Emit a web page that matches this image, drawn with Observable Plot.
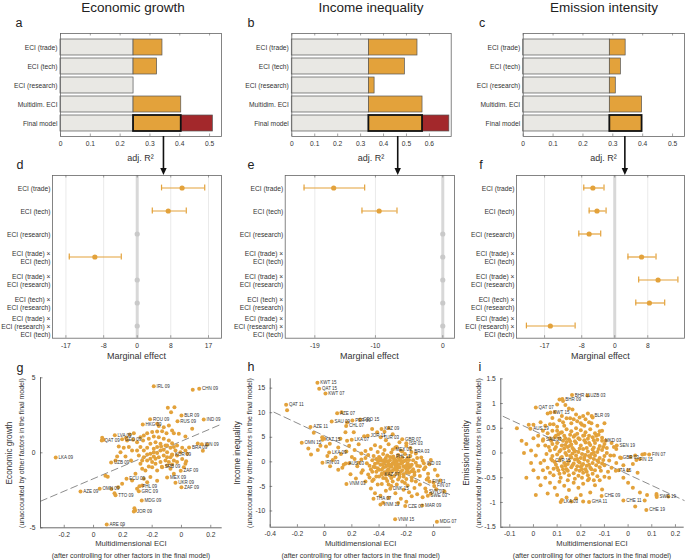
<!DOCTYPE html>
<html><head><meta charset="utf-8">
<script src="https://cdn.jsdelivr.net/npm/d3@7"></script>
<script src="https://cdn.jsdelivr.net/npm/@observablehq/plot@0.6"></script>
<style>
body{margin:0;background:#fff;font-family:"Liberation Sans",Arial,Helvetica,sans-serif;}
#fig{position:relative;width:685px;height:560px;overflow:hidden;background:#fff;}
.t{position:absolute;white-space:nowrap;color:#222;line-height:1;}
</style></head><body><div id="fig"></div>
<script>
const FONT = '"Liberation Sans", Arial, Helvetica, sans-serif';
const ORANGE = "#e3a23b", RED = "#a3282b", BARGRAY = "#e9e8e4", DOTGRAY = "#c9c9c9", INK = "#444";

// ---------- panels a-c: adjusted R^2 ----------
const topRows = ["ECI (trade)", "ECI (tech)", "ECI (research)", "Multidim. ECI", "Final model"];
const baseR2 = [0.245, 0.336, 0.29];
const eciR2A = [0.342, 0.324, 0.245, 0.405, 0.405];
const eciR2B = [0.548, 0.493, 0.361, 0.570, 0.570];
const eciR2C = [0.343, 0.327, 0.31, 0.398, 0.398];
const finalR2 = [0.511, 0.687, null];
const r2Max = [0.54, 0.695, 0.54];
const r2TicksA = [0, 0.1, 0.2, 0.3, 0.4, 0.5];
const r2TicksB = [0, 0.1, 0.2, 0.3, 0.4, 0.5, 0.6];
const r2TicksC = [0, 0.1, 0.2, 0.3, 0.4, 0.5];
const arrowAt = [0.347, 0.464, 0.342];

// ---------- panels d-f: marginal effects ----------
const midRows = ["ECI (trade)", "ECI (tech)", "ECI (research)", "ECI (trade) ×\nECI (tech)",
  "ECI (trade) ×\nECI (research)", "ECI (tech) ×\nECI (research)", "ECI (trade) ×\nECI (research) ×\nECI (tech)"];
const effD = [10.7, 7.4, 0, -10.1, 0, 0, 0];
const loD = [5.8, 3.6, null, -16.2, null, null, null];
const hiD = [16.1, 11.7, null, -3.8, null, null, null];
const effE = [-16.2, -9.45, 0, 0, 0, 0, 0];
const loE = [-20.6, -12.0, null, null, null, null, null];
const hiE = [-11.6, -6.8, null, null, null, null, null];
const effF = [-5.3, -4.3, -6.2, 6.5, 10.5, 8.4, -15.6];
const loF = [-7.5, -6.2, -8.7, 3.2, 5.8, 5.1, -21.4];
const hiF = [-2.6, -2.1, -3.4, 10.0, 15.3, 12.1, -9.6];
const ticksD = [-17, -8, 0, 8, 17], ticksE = [-19, -10, 0], ticksF = [-17, -8, 0, 8];
const domD = [-20.2, 20.1], domE = [-23.4, 1.74], domF = [-23.8, 16.9];

// ---------- panel g: economic growth scatter ----------
const gTicksX = [-0.8, -0.6, -0.4, -0.2, 0, 0.2];
const gTickLabels = ["-0.2", "0", "0.2", "-0.2", "0", "0.2"];
const gTicksY = [-5, 0, 5];
const gFit = [[-0.962, -3.23], [0.278, 1.93]];
const gLabeled = [["IRL 09",-0.189,4.44],["CHN 09",0.121,4.27],["BLR 09",0,2.49],["RUS 09",-0.027,2.11],["IND 09",0.152,2.22],
 ["ROU 09",-0.214,2.24],["HKG 09",-0.264,1.89],["LVA 09",-0.455,1.17],["GEO 09",-0.405,0.91],["QAT 09",-0.544,0.82],
 ["IDN 09",0.139,0.57],["BRA 09",0.052,0.35],["LKA 09",-0.858,-0.31],["UZB 09",-0.48,-0.65],["KOR 09",-0.064,-0.14],
 ["SRB 09",-0.134,-0.93],["ZAF 09",-0.005,-1.2],["ECU 09",-0.375,-1.73],["PHL 09",-0.287,-2.23],["MEX 09",-0.098,-1.65],
 ["UKR 09",-0.041,-2.0],["ZAF 09",0,-2.29],["OMN 09",-0.558,-2.4],["AZE 09",-0.689,-2.58],["GRC 09",-0.291,-2.56],
 ["TTO 09",-0.45,-2.83],["MDG 09",-0.271,-3.18],["JOR 09",-0.325,-3.91],["ARE 09",-0.51,-4.78]];
const gPoints = [[-0.093,3.0],[-0.048,3.04],[-0.071,2.71],[0.077,4.2],[-0.166,1.93],[-0.155,1.78],[-0.121,1.71],[-0.086,1.82],
 [-0.064,1.49],[-0.2,1.38],[-0.166,1.42],[-0.132,1.44],[-0.102,1.31],[-0.052,1.31],[-0.018,1.27],[0.027,1.09],[0.073,1.6],
 [-0.234,1.31],[-0.257,1.16],[-0.28,1.04],[-0.325,1.31],[-0.353,1.22],[-0.378,1.0],[-0.33,0.87],[-0.303,0.71],[-0.262,0.82],
 [-0.223,0.93],[-0.189,1.09],[-0.155,1.04],[-0.121,0.93],[-0.086,0.82],[-0.064,0.64],[-0.03,0.49],[0.005,0.33],[0.027,0.16],
 [0.039,-0.07],[-0.007,0.04],[-0.041,0.16],[-0.075,0.33],[-0.109,0.49],[-0.143,0.6],[-0.177,0.71],[-0.212,0.6],[-0.234,0.33],
 [-0.257,0.16],[-0.28,0.38],[-0.303,0.16],[-0.291,-0.18],[-0.257,-0.29],[-0.234,-0.51],[-0.212,-0.4],[-0.189,-0.24],[-0.166,-0.02],
 [-0.143,0.16],[-0.121,-0.18],[-0.098,0.04],[-0.075,-0.29],[-0.052,-0.51],[-0.086,-0.62],[-0.109,-0.51],[-0.143,-0.62],
 [-0.177,-0.73],[-0.2,-0.96],[-0.223,-0.91],[-0.246,-1.18],[-0.268,-1.07],[-0.166,-1.18],[-0.132,-0.96],[-0.098,-0.84],
 [-0.064,-0.78],[-0.03,-0.62],[0.016,-0.96],[0.032,-0.56],[0.005,-0.42],[-0.189,0.27],[-0.166,0.38],[-0.139,0.42],[-0.189,0.04],
 [-0.212,-0.07],[-0.234,-0.11],[-0.268,-0.51],[-0.28,-0.73],[-0.098,-0.29],[-0.064,-0.11],[-0.03,-0.18],[-0.052,0.38],
 [-0.098,0.49],[-0.2,-0.62],[-0.155,-0.29],[-0.121,0.2],[-0.177,-0.4],[-0.541,1.0],[-0.532,0.87],[-0.428,0.42],[-0.394,0.33],
 [-0.416,0.04],[-0.439,-0.24],[-0.45,-0.51],[-0.382,-0.24],[-0.359,0.38],[-0.337,0.16],[-0.344,-0.51],[-0.371,0.82],
 [-0.519,-1.53],[-0.503,-1.6],[-0.478,-2.42],[-0.457,-2.69],[-0.432,-2.29],[-0.405,-2.07],[-0.337,-1.84],[-0.314,-1.4],
 [-0.321,-3.69],[-0.316,-3.84],[-0.166,-1.87],[-0.303,-2.4],[-0.268,-2.18],[-0.234,-1.96],[-0.212,-1.62],[-0.257,-1.73],
 [-0.052,-1.4],[-0.075,-1.07],[0.027,-0.73],[0.111,0.62],[0.175,0.53],[0.146,0.13]];

// ---------- panel h: income inequality scatter ----------
const hTicksX = [-1.2, -1.0, -0.8, -0.6, -0.4, -0.2, 0];
const hTickLabels = ["-0.4", "-0.2", "0", "0.2", "-0.4", "-0.2", "0"];
const hTicksY = [-10, -5, 0, 5, 10, 15];
const hFit = [[-1.172, 10.1], [0.13, -6.8]];
const hLabeled = [["KWT 15",-0.853,16.1],["QAT 15",-0.84,14.9],["KWT 07",-0.794,13.9],["QAT 11",-1.083,11.6],["AZE 07",-0.708,9.9],
 ["SAU 09",-0.748,8.2],["PER 09",-0.596,8.4],["GEO 15",-0.539,8.6],["CHL 07",-0.642,7.3],["AZE 11",-0.904,7.1],["KAZ 09",-0.382,6.7],
 ["JOR 11",-0.483,5.3],["TUR 03",-0.388,5.0],["KAZ 15",-0.816,4.5],["LKA 07",-0.601,4.5],["GBR 07",-0.23,4.6],["OMN 15",-0.968,3.9],
 ["ISR 03",-0.2,3.8],["LKA 09",-0.767,1.9],["MEX 03",-0.299,2.5],["BRA 03",-0.162,2.0],["PHL 11",-0.296,1.1],["IRN 03",-0.816,-0.2],
 ["AUS 03",-0.645,-0.35],["IND 03",-0.071,-0.3],["KAZ 07",-0.38,-2.6],["VNM 03",-0.64,-4.5],["FIN 11",-0.03,-4.0],["FIN 07",0.005,-4.9],
 ["DNK 15",-0.318,-5.5],["SVN 03",-0.054,-6.1],["SWE 03",-0.042,-6.9],["THA 07",-0.441,-7.5],["VNM 11",-0.39,-8.7],["CZE 07",-0.208,-9.0],
 ["MAR 09",-0.083,-8.9],["VNM 15",-0.282,-11.7],["MDG 07",0.025,-12.2]];
const hPoints = [[-1.076,10.5],[-0.676,10.1],[-0.635,8.0],[-0.818,5.0],[-0.806,4.7],[-0.762,3.7],[-0.831,3.3],[-0.684,4.7],
 [-0.647,6.0],[-0.586,6.0],[-0.635,4.3],[-0.451,6.7],[-0.414,6.0],[-0.88,5.9],[-0.85,2.4],[-0.78,1.2],[-0.74,0.4],[-0.7,2.9],
 [-0.68,1.6],[-0.66,-0.6],[-0.62,3.3],[-0.6,1.0],[-0.58,2.4],[-0.56,-0.9],[-0.55,3.6],[-0.53,0.5],[-0.52,-1.7],[-0.51,5.2],
 [-0.5,2.2],[-0.49,-0.3],[-0.7,-1.6],[-0.76,-0.9],[-0.9,1.5],[-0.92,2.7],[-0.61,-2.5],[-0.57,-3.4],[-0.53,-2.2],[-0.5,-4.0],
 [-0.47,-3.2],[-0.46,-5.4],[-0.43,-6.4],[-0.41,-4.6],[-0.39,-6.9],[-0.37,-8.3],[-0.35,-5.9],[-0.33,-7.3],[-0.31,-4.9],
 [-0.28,-6.4],[-0.26,-8.4],[-0.24,-7.5],[-0.22,-5.7],[-0.2,-8.1],[-0.18,-6.2],[-0.16,-7.0],[-0.14,-5.3],[-0.12,-6.6],[-0.1,-4.6],
 [-0.08,-7.2],[-0.06,-5.4],[-0.04,-3.3],[-0.02,-6.5],[0.0,-4.2],[0.02,-5.6],[0.05,-3.8],[0.08,-6.0],[-0.14,-2.1],[-0.12,-0.8],
 [-0.1,-2.9],[-0.09,0.9],[-0.07,-1.5],[-0.05,-3.6],[-0.03,-0.5],[-0.13,1.7],[-0.16,-3.8],[-0.18,-1.2],[-0.2,0.4],[-0.17,2.8],
 [-0.2,3.3],[-0.23,2.1],[-0.25,4.0],[-0.27,3.0],[-0.3,5.6],[-0.33,6.9],[-0.35,4.4],[-0.36,6.1],[-0.48,1.4],[-0.47,-0.8],
 [-0.46,2.6],[-0.45,0.3],[-0.45,-2.0],[-0.44,1.2],[-0.43,-1.1],[-0.43,3.4],[-0.42,0.6],[-0.42,-3.0],[-0.41,2.0],[-0.41,-0.2],
 [-0.4,-1.6],[-0.4,1.0],[-0.39,3.0],[-0.39,-0.6],[-0.38,0.2],[-0.38,-2.4],[-0.37,1.6],[-0.37,-1.2],[-0.36,-0.1],[-0.36,2.4],
 [-0.35,-3.4],[-0.35,0.8],[-0.34,-1.8],[-0.34,1.3],[-0.33,-0.4],[-0.33,3.6],[-0.32,0.3],[-0.32,-2.8],[-0.31,1.9],[-0.31,-1.0],
 [-0.3,-0.3],[-0.3,-4.0],[-0.29,0.7],[-0.29,-1.5],[-0.28,2.9],[-0.28,-0.8],[-0.27,0.1],[-0.27,-2.3],[-0.26,1.4],[-0.26,-1.2],
 [-0.25,-3.1],[-0.25,0.5],[-0.24,-0.4],[-0.24,2.3],[-0.23,-1.7],[-0.23,0.9],[-0.22,-0.9],[-0.22,-2.6],[-0.21,0.2],[-0.21,1.6],
 [-0.2,-1.4],[-0.2,-3.5],[-0.19,0.8],[-0.19,-0.3],[-0.18,-2.2],[-0.17,1.2],[-0.16,-0.6],[-0.15,0.3],[-0.15,-1.5],[-0.14,-2.7],
 [-0.13,-0.2],[-0.12,0.8],[-0.11,-1.8],[-0.1,-0.9],[-0.08,0.2],[-0.06,-1.1],[-0.04,-2.4],[-0.02,0.4],[0.01,-1.6],[0.03,-2.8],
 [-0.38,-4.5],[-0.34,-3.9],[-0.27,-4.6],[-0.23,-4.0],[-0.19,-4.8],[-0.44,-3.6],[-0.4,-3.0],[-0.46,-1.5],[-0.5,0.8],[-0.48,-2.6],
 [-0.53,1.7],[-0.55,-0.2],[-0.58,0.6],[-0.62,-0.3],[-0.64,2.1],[-0.67,-1.2],[-0.72,0.9],[-0.79,3.1],[-0.33,-1.5],[-0.31,-2.0],
 [-0.29,-2.9],[-0.27,-1.7],[-0.35,-1.0],[-0.37,-0.5],[-0.39,0.7],[-0.41,-1.3],[-0.28,0.3],[-0.26,-0.6],[-0.3,0.9],[-0.32,-0.9],
 [-0.34,0.1],[-0.36,-2.1],[-0.29,-0.4],[-0.25,-1.1],[-0.22,0.1],[-0.24,-2.0],[-0.31,-3.3],[-0.43,-0.4],[-0.45,-3.9],[-0.2,-0.8],
 [-0.18,0.4],[-0.16,-1.9],[-0.35,-2.6],[-0.33,-2.2],[-0.31,-0.6],[-0.29,0.2],[-0.27,-0.3],[-0.25,-2.5],[-0.23,-0.2],[-0.21,-1.1],
 [-0.19,-1.8],[-0.17,-0.9],[-0.36,0.4],[-0.34,-0.7],[-0.32,1.0],[-0.3,-1.8],[-0.28,-1.3],[-0.26,0.9],[-0.24,0.2],[-0.22,-3.0],
 [-0.2,-2.1],[-0.18,-0.7],[-0.42,-2.0],[-0.38,-1.6],[-0.4,0.3],[-0.44,-1.0],[-0.37,-3.3],[-0.33,-4.6],[-0.26,-3.6],[-0.21,-4.3],
 [-0.16,-3.2],[-0.13,-4.0]];

// ---------- panel i: emission intensity scatter ----------
const iTicksX = [-0.5, -0.4, -0.3, -0.2, -0.1, 0, 0.1, 0.2];
const iTickLabels = ["-0.1", "0", "0.1", "0.2", "-0.1", "0", "0.1", "0.2"];
const iTicksY = [-1.5, -1, -0.5, 0, 0.5, 1, 1.5];
const iFit = [[-0.528, 0.74], [0.237, -0.96]];
const iLabeled = [["BHR 11",-0.237,1.17],["UZB 03",-0.172,1.16],["BHR 09",-0.278,1.09],["QAT 07",-0.39,0.92],["KWT 15",-0.328,0.82],
 ["BLR 09",-0.154,0.75],["AUS 19",-0.413,0.49],["SAU 03",-0.359,0.28],["MKD 03",-0.11,0.25],["SEN 19",-0.048,0.15],
 ["FIN 07",0.089,-0.03],["GBR 03",-0.034,-0.09],["FIN 15",0.035,-0.14],["CYP 15",-0.32,-0.15],["ITA 15",-0.052,-0.36],
 ["CHE 09",-0.112,-0.87],["SWE 19",0.121,-0.89],["CHE 11",-0.02,-0.96],["LKA 03",-0.285,-0.99],["GHA 11",-0.165,-0.99],["CHE 19",0.077,-1.15]];
const iPoints = [[-0.29,1.08],[-0.275,1.05],[-0.265,0.97],[-0.3,0.98],[-0.25,0.9],[-0.235,0.88],[-0.31,0.83],[-0.22,0.78],
 [-0.205,0.72],[-0.26,0.7],[-0.29,0.66],[-0.34,0.8],[-0.32,0.71],[-0.18,0.68],[-0.165,0.62],[-0.195,0.57],[-0.24,0.6],[-0.27,0.55],
 [-0.3,0.53],[-0.33,0.58],[-0.37,0.62],[-0.4,0.57],[-0.42,0.57],[-0.36,0.45],[-0.34,0.4],[-0.38,0.35],[-0.33,0.3],
 [-0.3,0.45],[-0.28,0.42],[-0.26,0.48],[-0.24,0.44],[-0.22,0.5],[-0.2,0.46],[-0.18,0.42],[-0.16,0.48],[-0.14,0.4],[-0.12,0.44],
 [-0.31,0.32],[-0.29,0.3],[-0.27,0.35],[-0.25,0.28],[-0.23,0.33],[-0.21,0.3],[-0.19,0.35],[-0.17,0.29],[-0.15,0.32],[-0.13,0.27],[-0.11,0.31],
 [-0.32,0.18],[-0.3,0.2],[-0.28,0.15],[-0.26,0.22],[-0.24,0.17],[-0.22,0.2],[-0.2,0.15],[-0.18,0.21],[-0.16,0.16],[-0.14,0.2],[-0.12,0.14],[-0.1,0.18],
 [-0.33,0.05],[-0.31,0.08],[-0.29,0.03],[-0.27,0.09],[-0.25,0.04],[-0.23,0.07],[-0.21,0.02],[-0.19,0.08],[-0.17,0.03],[-0.15,0.07],[-0.13,0.02],[-0.11,0.06],[-0.09,0.0],
 [-0.32,-0.06],[-0.3,-0.03],[-0.28,-0.08],[-0.26,-0.04],[-0.24,-0.09],[-0.22,-0.05],[-0.2,-0.1],[-0.18,-0.04],[-0.16,-0.09],[-0.14,-0.05],[-0.12,-0.1],[-0.1,-0.06],
 [-0.31,-0.18],[-0.29,-0.15],[-0.27,-0.2],[-0.25,-0.16],[-0.23,-0.21],[-0.21,-0.17],[-0.19,-0.22],[-0.17,-0.16],[-0.15,-0.2],[-0.13,-0.15],[-0.11,-0.21],
 [-0.3,-0.3],[-0.28,-0.27],[-0.26,-0.33],[-0.24,-0.29],[-0.22,-0.34],[-0.2,-0.28],[-0.18,-0.33],[-0.16,-0.3],[-0.14,-0.35],[-0.12,-0.29],
 [-0.29,-0.42],[-0.27,-0.4],[-0.25,-0.45],[-0.23,-0.41],[-0.21,-0.46],[-0.19,-0.4],[-0.17,-0.45],[-0.15,-0.42],[-0.13,-0.47],
 [-0.295,0.38],[-0.275,0.25],[-0.255,0.12],[-0.235,-0.01],[-0.215,-0.12],[-0.195,-0.25],[-0.175,0.1],[-0.155,-0.02],[-0.135,0.35],
 [-0.285,-0.1],[-0.265,-0.26],[-0.245,0.37],[-0.225,0.24],[-0.205,-0.36],[-0.185,0.26],[-0.165,-0.24],[-0.145,0.11],[-0.255,-0.36],
 [-0.235,0.1],[-0.215,0.39],[-0.195,-0.02],[-0.175,-0.38],[-0.305,-0.24],[-0.325,0.25],[-0.345,-0.02],[-0.35,0.15],[-0.355,-0.15],
 [-0.34,-0.3],[-0.36,0.25],[-0.38,0.15],[-0.4,0.3],[-0.41,0.05],[-0.43,0.18],[-0.45,0.25],[-0.47,0.5],[-0.39,-0.05],[-0.37,-0.2],
 [-0.4,-0.35],[-0.43,-0.5],[-0.35,-0.5],[-0.37,-0.65],[-0.33,-0.6],[-0.31,-0.7],[-0.34,-0.82],[-0.29,-0.58],[-0.27,-0.66],
 [-0.25,-0.75],[-0.23,-0.6],[-0.21,-0.7],[-0.19,-0.62],[-0.17,-0.55],[-0.2,-0.85],[-0.22,-0.92],[-0.24,-0.98],[-0.26,-0.9],
 [-0.19,-0.98],[-0.16,-0.8],[-0.14,-0.65],[-0.12,-0.55],[-0.1,-0.48],[-0.11,-0.74],[-0.39,-0.85],[-0.3,-0.85],[-0.28,-0.95],
 [-0.1,-0.25],[-0.08,-0.15],[-0.06,-0.05],[-0.07,-0.3],[-0.05,-0.2],[-0.04,-0.35],[-0.03,-0.1],[-0.02,-0.25],[0.0,-0.35],
 [0.01,-0.08],[0.02,-0.22],[0.03,-0.05],[0.05,-0.12],[0.06,-0.03],[0.07,-0.02],[0.04,-0.4],[0.0,-0.6],[-0.02,-0.5],[0.02,-0.7],
 [0.05,-0.8],[0.07,-0.96],[0.08,-0.85],[0.03,-1.08],[0.12,-0.83],[0.12,-0.86],[0.17,-0.88],[-0.08,-0.5],[-0.09,0.1],[-0.07,0.2],
 [-0.05,0.08],[-0.11,0.45],[-0.13,0.55],[-0.1,0.6],[-0.15,0.72],[-0.17,0.8],[-0.2,0.6],
 [-0.305,0.12],[-0.285,0.06],[-0.265,0.0],[-0.245,-0.06],[-0.225,-0.13],[-0.205,-0.19],[-0.185,-0.13],[-0.165,-0.06],[-0.145,0.01],
 [-0.125,0.08],[-0.105,0.12],[-0.295,-0.35],[-0.275,-0.33],[-0.255,-0.22],[-0.235,-0.25],[-0.215,-0.27],[-0.195,-0.33],[-0.175,-0.26],
 [-0.155,-0.33],[-0.135,-0.25],[-0.115,-0.36],[-0.305,0.35],[-0.285,0.41],[-0.265,0.3],[-0.245,0.24],[-0.225,0.36],[-0.205,0.28],
 [-0.185,0.36],[-0.165,0.35],[-0.145,0.26],[-0.125,0.37],[-0.315,-0.45],[-0.285,-0.5],[-0.255,-0.55],[-0.225,-0.52],[-0.195,-0.5],
 [-0.165,-0.52],[-0.145,-0.55],[-0.315,0.58],[-0.275,0.62],[-0.245,0.7],[-0.215,0.64],[-0.185,0.55],[-0.155,0.6],[-0.325,-0.12],
 [-0.335,0.12],[-0.315,-0.32],[-0.205,0.09],[-0.225,0.03],[-0.245,0.15],[-0.265,0.16],[-0.185,-0.08],[-0.165,0.2],[-0.145,-0.12],
 [-0.125,-0.18],[-0.105,-0.14],[-0.095,0.25],[-0.085,-0.38],[-0.075,-0.05],[-0.06,0.12],[-0.36,-0.35],[-0.38,-0.5],[-0.41,-0.2],
 [-0.44,0.0],[-0.33,-0.4],[-0.32,0.45],[-0.35,0.55],[-0.28,0.75],[-0.23,0.68],[-0.19,0.75]];

// ================= drawing =================
const fig = document.getElementById("fig");
function place(svg, left, top) {
  svg.style.position = "absolute"; svg.style.left = left + "px"; svg.style.top = top + "px";
  fig.appendChild(svg); return svg;
}
function txt(s, cx, cy, size, rotate, color) {
  const el = document.createElement("div");
  el.className = "t"; el.textContent = s;
  el.style.left = cx + "px"; el.style.top = cy + "px"; el.style.fontSize = size + "px";
  if (color) el.style.color = color;
  el.style.transform = "translate(-50%,-50%)" + (rotate ? " rotate(" + rotate + "deg)" : "");
  fig.appendChild(el);
}
const baseStyle = {fontFamily: FONT, fontSize: "6.7px", color: "#333", background: "transparent", overflow: "visible"};

function topPanel(cfg) {
  const H = 148, mT = 13, mB = 32, fh = H - mT - mB;
  const rows = topRows.map((r, i) => ({row: r, base: cfg.base, eci: cfg.eci[i], last: i === topRows.length - 1}));
  const marks = [
    Plot.barX(rows, {y: "row", x1: 0, x2: "base", fill: BARGRAY, stroke: "#555", strokeWidth: 0.7}),
    Plot.barX(rows.filter(d => !d.last && d.eci > d.base), {y: "row", x1: "base", x2: "eci", fill: ORANGE, stroke: "#555", strokeWidth: 0.7})
  ];
  if (cfg.fin != null) marks.push(Plot.barX(rows.filter(d => d.last), {y: "row", x1: "eci", x2: () => cfg.fin, fill: RED, stroke: "#555", strokeWidth: 0.7}));
  marks.push(
    Plot.barX(rows.filter(d => d.last), {y: "row", x1: "base", x2: "eci", fill: ORANGE, stroke: "#111", strokeWidth: 1.8}),
    Plot.frame({stroke: "#666", strokeWidth: 0.8}),
    Plot.tickX(cfg.ticks, {x: d => d, insetTop: fh - 2.5, stroke: "#666", strokeWidth: 0.6}),
    Plot.tickX(cfg.ticks, {x: d => d, insetBottom: fh - 2.5, stroke: "#666", strokeWidth: 0.6}),
    Plot.axisX({ticks: cfg.ticks, tickSize: 0, tickPadding: 5, tickFormat: d => String(d), label: null}),
    Plot.axisY({tickSize: 0, tickPadding: 3, label: null})
  );
  const p = Plot.plot({
    width: cfg.width, height: H, marginLeft: cfg.mL, marginRight: cfg.mR, marginTop: mT, marginBottom: mB,
    style: baseStyle,
    x: {domain: [0, cfg.xMax]},
    y: {domain: topRows, padding: 0.17},
    marks
  });
  return place(p, cfg.left, 20);
}

function midPanel(cfg) {
  const H = 200, mT = 7, mB = 30.3, fh = H - mT - mB;
  const rows = midRows.map((r, i) => ({row: r, eff: cfg.eff[i], lo: cfg.lo[i], hi: cfg.hi[i]}));
  const sig = rows.filter(d => d.lo != null), ns = rows.filter(d => d.lo == null);
  const p = Plot.plot({
    width: cfg.width, height: H, marginLeft: cfg.mL, marginRight: cfg.mR, marginTop: mT, marginBottom: mB,
    style: baseStyle,
    x: {domain: cfg.domain},
    y: {domain: midRows, padding: 0},
    marks: [
      Plot.ruleX(cfg.ticks.filter(t => t !== 0), {stroke: "#e4e4e4", strokeWidth: 0.8}),
      Plot.ruleX([0], {stroke: "#d8d8d8", strokeWidth: 3}),
      Plot.ruleY(sig, {y: "row", x1: "lo", x2: "hi", stroke: ORANGE, strokeWidth: 1.2}),
      Plot.tickX(sig, {y: "row", x: "lo", stroke: ORANGE, strokeWidth: 1.2, insetTop: 8.6, insetBottom: 8.6}),
      Plot.tickX(sig, {y: "row", x: "hi", stroke: ORANGE, strokeWidth: 1.2, insetTop: 8.6, insetBottom: 8.6}),
      Plot.dot(ns, {y: "row", x: "eff", r: 2.6, fill: DOTGRAY}),
      Plot.dot(sig, {y: "row", x: "eff", r: 2.6, fill: ORANGE}),
      Plot.frame({stroke: "#666", strokeWidth: 0.8}),
      Plot.tickX(cfg.ticks, {x: d => d, insetTop: fh - 2.5, stroke: "#666", strokeWidth: 0.6}),
      Plot.tickX(cfg.ticks, {x: d => d, insetBottom: fh - 2.5, stroke: "#666", strokeWidth: 0.6}),
      Plot.axisX({ticks: cfg.ticks, tickSize: 0, tickPadding: 5, tickFormat: d => String(d), label: null}),
      Plot.axisY({tickSize: 0, tickPadding: 2, label: null, lineHeight: 1.2})
    ]
  });
  return place(p, cfg.left, 168);
}

function scatter(cfg) {
  const H = 190, fh = H - cfg.mT - cfg.mB, fw = cfg.width - cfg.mL - cfg.mR;
  const lab = cfg.labeled.map(d => ({label: d[0], x: d[1], y: d[2]}));
  const fmtX = d => { const k = cfg.xTicks.findIndex(t => Math.abs(t - d) < 1e-9); return k < 0 ? "" : cfg.xLabels[k]; };
  const p = Plot.plot({
    width: cfg.width, height: H, marginLeft: cfg.mL, marginRight: cfg.mR, marginTop: cfg.mT, marginBottom: cfg.mB,
    style: baseStyle,
    x: {domain: cfg.xDomain},
    y: {domain: cfg.yDomain},
    marks: [
      Plot.line(cfg.fit, {x: d => d[0], y: d => d[1], stroke: "#8d8d8d", strokeWidth: 1, strokeDasharray: "7,4"}),
      Plot.dot(cfg.points, {x: d => d[0], y: d => d[1], r: 2, fill: ORANGE}),
      Plot.dot(lab, {x: "x", y: "y", r: 2, fill: ORANGE}),
      Plot.text(lab, {x: "x", y: "y", text: "label", textAnchor: "start", dx: 2.8, fontSize: 4.5, fill: "#333"}),
      Plot.ruleX([cfg.xDomain[0]], {stroke: INK, strokeWidth: 0.8}),
      Plot.ruleY([cfg.yDomain[0]], {stroke: INK, strokeWidth: 0.8}),
      Plot.tickX(cfg.xTicks, {x: d => d, insetTop: fh - 2.5, stroke: INK, strokeWidth: 0.6}),
      Plot.tickY(cfg.yTicks, {y: d => d, insetRight: fw - 2.5, stroke: INK, strokeWidth: 0.6}),
      Plot.axisX({ticks: cfg.xTicks, tickSize: 0, tickPadding: 4, tickFormat: fmtX, label: null}),
      Plot.axisY({ticks: cfg.yTicks, tickSize: 0, tickPadding: 5, tickFormat: d => String(d), label: null})
    ]
  });
  return place(p, cfg.left, 370);
}

const pa = topPanel({left: 0, width: 228, mL: 60, mR: 7, xMax: r2Max[0], ticks: r2TicksA, base: baseR2[0], eci: eciR2A, fin: finalR2[0]});
const pb = topPanel({left: 228, width: 228, mL: 63.3, mR: 5.3, xMax: r2Max[1], ticks: r2TicksB, base: baseR2[1], eci: eciR2B, fin: finalR2[1]});
const pc = topPanel({left: 456, width: 229, mL: 66.7, mR: 1, xMax: r2Max[2], ticks: r2TicksC, base: baseR2[2], eci: eciR2C, fin: finalR2[2]});

midPanel({left: 0, width: 228, mL: 52, mR: 7, domain: domD, ticks: ticksD, eff: effD, lo: loD, hi: hiD});
midPanel({left: 228, width: 228, mL: 56.7, mR: 2, domain: domE, ticks: ticksE, eff: effE, lo: loE, hi: hiE});
midPanel({left: 456, width: 229, mL: 60, mR: 1, domain: domF, ticks: ticksF, eff: effF, lo: loF, hi: hiF});

scatter({left: 0, width: 228, mL: 40, mR: 6.3, mT: 7.3, mB: 32.7, xDomain: [-0.962, 0.278], yDomain: [-5, 5],
  xTicks: gTicksX, xLabels: gTickLabels, yTicks: gTicksY, fit: gFit, points: gPoints, labeled: gLabeled});
scatter({left: 228, width: 228, mL: 41.7, mR: 5.3, mT: 8.3, mB: 33.3, xDomain: [-1.2, 0.13], yDomain: [-13.3, 16.9],
  xTicks: hTicksX, xLabels: hTickLabels, yTicks: hTicksY, fit: hFit, points: hPoints, labeled: hLabeled});
scatter({left: 456, width: 229, mL: 44.3, mR: 1.3, mT: 8.3, mB: 33.3, xDomain: [-0.538, 0.237], yDomain: [-1.5, 1.5],
  xTicks: iTicksX, xLabels: iTickLabels, yTicks: iTicksY, fit: iFit, points: iPoints, labeled: iLabeled});

// arrows from final-model bars to marginal-effect panels
const ov = d3.select(fig).append("svg").attr("width", 685).attr("height", 560)
  .style("position", "absolute").style("left", "0px").style("top", "0px").style("pointer-events", "none");
[[pa, 0], [pb, 228], [pc, 456]].forEach(([p, left], k) => {
  const x = left + p.scale("x").apply(arrowAt[k]);
  ov.append("line").attr("x1", x).attr("x2", x).attr("y1", 136).attr("y2", 169).attr("stroke", "#111").attr("stroke-width", 1.6);
  ov.append("path").attr("d", `M${x - 3.2},${168} L${x + 3.2},${168} L${x},${175} Z`).attr("fill", "#111");
});

// titles, panel letters, axis titles
txt("Economic growth", 133, 8, 13.5);
txt("Income inequality", 371, 8, 13.5);
txt("Emission intensity", 604, 8, 13.5);
[["a", 19, 23], ["b", 251, 23], ["c", 482, 23], ["d", 20, 165], ["e", 251, 165], ["f", 481, 165],
 ["g", 20, 368], ["h", 251, 367], ["i", 480, 367]].forEach(([s, x, y]) => txt(s, x, y, 12.5));
[140.5, 371, 603.4].forEach(x => txt("adj. R²", x, 157.5, 9, 0, "#333333"));
[136.5, 369.4, 600.4].forEach(x => txt("Marginal effect", x, 356, 9, 0, "#333333"));
[130.9, 360.7, 592].forEach(x => {
  txt("Multidimensional ECI", x, 543.5, 7.6, 0, "#333333");
  txt("(after controlling for other factors in the final model)", x, 555, 7, 0, "#333333");
});
[["Economic growth", 10, 20.7], ["Income inequality", 238, 248.7], ["Emission intensity", 466.7, 477.7]].forEach(([s, x1, x2]) => {
  txt(s, x1, 453, 8.2, -90, "#333333");
  txt("(unaccounted by other factors in the final model)", x2, 453, 7, -90, "#333333");
});
</script></body></html>
